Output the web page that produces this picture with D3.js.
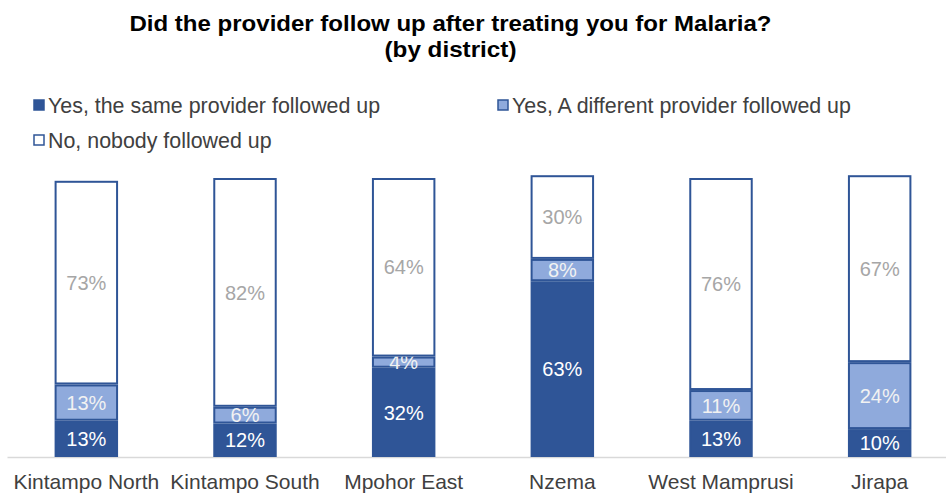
<!DOCTYPE html>
<html>
<head>
<meta charset="utf-8">
<script src="https://cdn.jsdelivr.net/npm/d3@7"></script>
<style>
  html, body { margin: 0; padding: 0; background: #fff; }
  svg { display: block; }
</style>
</head>
<body>
<svg id="chart" width="946" height="495"></svg>
<script>
// Districts and survey responses (percent of respondents)
const districts = ["Kintampo North", "Kintampo South", "Mpohor East", "Nzema", "West Mamprusi", "Jirapa"];
const sameProvider = [13, 12, 32, 63, 13, 10];
const differentProvider = [13, 6, 4, 8, 11, 24];
const nobody = [73, 82, 64, 30, 76, 67];
const seriesNames = ["Yes, the same provider followed up", "Yes, A different provider followed up", "No, nobody followed up"];
const titleLines = ["Did the provider follow up after treating you for Malaria?", "(by district)"];

const W = 946, H = 495;
const svg = d3.select("#chart");

const fills = ["#2F5597", "#8FAADC", "#FFFFFF"];
const labelColors = ["#FFFFFF", "#F2F2F2", "#A6A6A6"];
const outline = "#2F5597";
const font = "'Liberation Sans', Arial, sans-serif";

const rows = districts.map((d, i) => ({
  district: d,
  s0: sameProvider[i],
  s1: differentProvider[i],
  s2: nobody[i]
}));
const stack = d3.stack().keys(["s0", "s1", "s2"])(rows);

const x = d3.scaleBand().domain(districts).range([7, 959]).paddingInner(0.6).paddingOuter(0.3);
const y = d3.scaleLinear().domain([0, 100]).range([457, 178]);

// Title (condensed bold, two lines)
const titleWidths = [642, 132];
const titleBaselines = [31, 57];
const titleCenter = 450.5;
titleLines.forEach((t, i) => {
  svg.append("text")
    .attr("x", titleCenter - titleWidths[i] / 2).attr("y", titleBaselines[i])
    .attr("textLength", titleWidths[i])
    .attr("lengthAdjust", "spacingAndGlyphs")
    .style("font-family", font)
    .style("font-weight", "bold")
    .style("font-size", "21.5px")
    .style("fill", "#000")
    .text(t);
});

// Legend
const legendPos = [[33, 106], [497, 106], [33, 141]];
const legend = svg.append("g");
seriesNames.forEach((name, i) => {
  const [lx, ly] = legendPos[i];
  legend.append("rect")
    .attr("x", lx + 1).attr("y", ly - 6)
    .attr("width", 10).attr("height", 10)
    .attr("fill", fills[i])
    .attr("stroke", outline)
    .attr("stroke-width", 1.5);
  legend.append("text")
    .attr("x", lx + 15).attr("y", ly + 7)
    .style("font-family", font)
    .style("font-size", "21.4px")
    .style("fill", "#404040")
    .text(name);
});

// Baseline axis
const xAxis = d3.axisBottom(x).tickSize(0).tickPadding(17);
const axisG = svg.append("g").attr("transform", `translate(0,${y(0)})`).call(xAxis);
axisG.select(".domain").attr("stroke", "#D9D9D9").attr("stroke-width", 1.5);
axisG.selectAll("text")
  .style("font-family", font)
  .style("font-size", "21px")
  .style("fill", "#404040");

// Stacked bars
const layers = svg.selectAll("g.layer").data(stack).join("g").attr("class", "layer");
layers.selectAll("rect")
  .data((layer, li) => layer.map(d => ({ d, li })))
  .join("rect")
  .attr("x", o => x(o.d.data.district) + 1)
  .attr("y", o => y(o.d[1]) + 1)
  .attr("width", x.bandwidth() - 2)
  .attr("height", o => Math.max(0, y(o.d[0]) - y(o.d[1]) - 2))
  .attr("fill", o => fills[o.li])
  .attr("stroke", outline)
  .attr("stroke-width", 2);

// Value labels
layers.selectAll("text")
  .data((layer, li) => layer.map(d => ({ d, li })))
  .join("text")
  .attr("x", o => x(o.d.data.district) + x.bandwidth() / 2)
  .attr("y", o => (y(o.d[0]) + y(o.d[1])) / 2)
  .attr("dy", "0.36em")
  .attr("text-anchor", "middle")
  .style("font-family", font)
  .style("font-size", "20px")
  .style("fill", o => labelColors[o.li])
  .text(o => (o.d[1] - o.d[0]) + "%");
</script>
</body>
</html>
